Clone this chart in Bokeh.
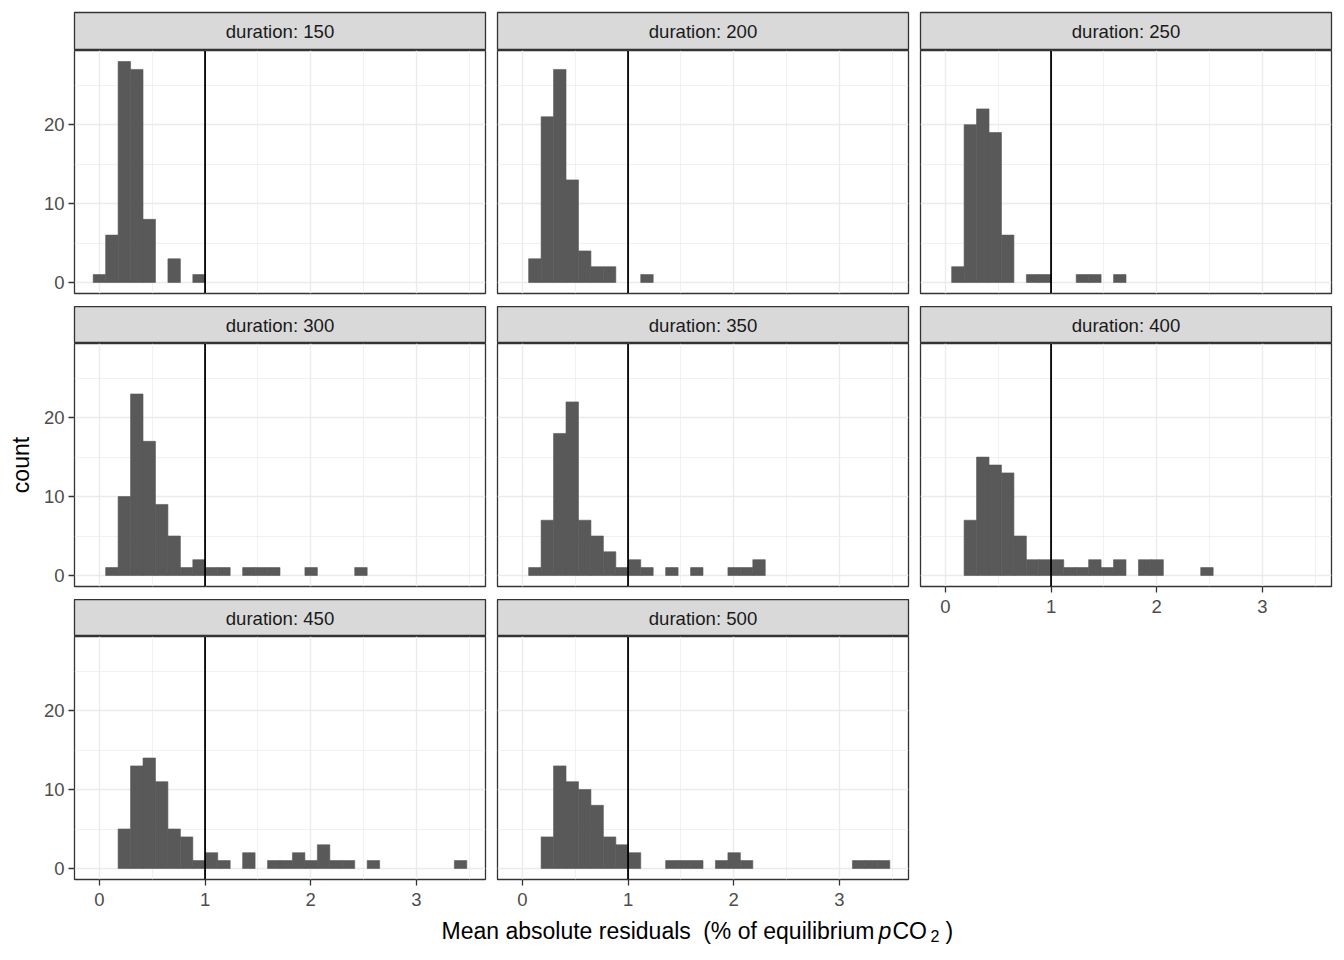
from bokeh.plotting import figure
from bokeh.layouts import row, column
from bokeh.models import Range1d, FixedTicker, Span
from bokeh.core.properties import value
from bokeh.embed import file_html
from bokeh.resources import INLINE

# ---------------- data ----------------
DURATIONS = [150, 200, 250, 300, 350, 400, 450, 500]
BIN_WIDTH = 0.1179          # histogram bin width (30 bins, centred on multiples of the width)

# counts per bin, bin k centred at k * BIN_WIDTH
COUNTS_150 = [1, 6, 28, 27, 8, 0, 3, 0, 1, 0, 0, 0, 0, 0, 0, 0, 0, 0, 0, 0, 0, 0, 0, 0, 0, 0, 0, 0, 0, 0]
COUNTS_200 = [0, 3, 21, 27, 13, 4, 2, 2, 0, 0, 1, 0, 0, 0, 0, 0, 0, 0, 0, 0, 0, 0, 0, 0, 0, 0, 0, 0, 0, 0]
COUNTS_250 = [0, 2, 20, 22, 19, 6, 0, 1, 1, 0, 0, 1, 1, 0, 1, 0, 0, 0, 0, 0, 0, 0, 0, 0, 0, 0, 0, 0, 0, 0]
COUNTS_300 = [0, 1, 10, 23, 17, 9, 5, 1, 2, 1, 1, 0, 1, 1, 1, 0, 0, 1, 0, 0, 0, 1, 0, 0, 0, 0, 0, 0, 0, 0]
COUNTS_350 = [0, 1, 7, 18, 22, 7, 5, 3, 1, 2, 1, 0, 1, 0, 1, 0, 0, 1, 1, 2, 0, 0, 0, 0, 0, 0, 0, 0, 0, 0]
COUNTS_400 = [0, 0, 7, 15, 14, 13, 5, 2, 2, 2, 1, 1, 2, 1, 2, 0, 2, 2, 0, 0, 0, 1, 0, 0, 0, 0, 0, 0, 0, 0]
COUNTS_450 = [0, 0, 5, 13, 14, 11, 5, 4, 1, 2, 1, 0, 2, 0, 1, 1, 2, 1, 3, 1, 1, 0, 1, 0, 0, 0, 0, 0, 0, 1]
COUNTS_500 = [0, 0, 4, 13, 11, 10, 8, 4, 3, 2, 0, 0, 1, 1, 1, 0, 1, 2, 1, 0, 0, 0, 0, 0, 0, 0, 0, 1, 1, 1]
ALL_COUNTS = [COUNTS_150, COUNTS_200, COUNTS_250, COUNTS_300,
              COUNTS_350, COUNTS_400, COUNTS_450, COUNTS_500]

THRESHOLD = 1.0
X_TICKS = [0, 1, 2, 3]
X_MINOR = [0.5, 1.5, 2.5, 3.5]
Y_TICKS = [0, 10, 20]
Y_MINOR = [5, 15, 25]

# ---------------- style ----------------
FONT = "Liberation Sans"
BAR = "#595959"
GRID = "#EBEBEB"
BORDER = "#333333"
STRIP_BG = "#D9D9D9"

X_RANGE = (-0.236, 3.655)
Y_RANGE = (-1.4, 29.4)
FRAME_H = 243

# column geometry: (figure width, min_border_left, min_border_right)
COLS = [(491, 74, 6), (423, 6, 6), (422, 6, 5)]


def style_axis(ax, standoff):
    ax.axis_line_color = None
    ax.major_tick_line_color = BORDER
    ax.major_tick_line_width = 1.3
    ax.major_tick_out = 6
    ax.major_tick_in = 0
    ax.minor_tick_line_color = None
    ax.major_label_text_font = FONT
    ax.major_label_text_font_size = "18.5px"
    ax.major_label_text_color = "#4D4D4D"
    ax.major_label_standoff = standoff


def make_strip(label, col, top):
    w, ml, mr = COLS[col]
    s = figure(width=w, height=(38 + top) if top else 37,
               x_range=Range1d(0, 1), y_range=Range1d(0, 1),
               x_axis_location=None, y_axis_location=None,
               min_border_left=ml, min_border_right=mr,
               min_border_top=top, min_border_bottom=0,
               background_fill_color=STRIP_BG, border_fill_color="white",
               outline_line_color=BORDER, outline_line_width=1.3,
               toolbar_location=None, output_backend="svg")
    s.grid.visible = False
    s.text(x=[0.5], y=[0.5], text=[label], text_align="center",
           text_baseline="middle", text_font=value(FONT),
           text_font_size="18.6px", text_color="#1A1A1A")
    return s


def make_panel(counts, col, show_x, show_y, ylabel=None):
    w, ml, mr = COLS[col]
    mb = 36 if show_x else 13
    p = figure(width=w, height=FRAME_H + mb,
               x_range=Range1d(*X_RANGE), y_range=Range1d(*Y_RANGE),
               min_border_left=ml, min_border_right=mr,
               min_border_top=0, min_border_bottom=mb,
               background_fill_color="white", border_fill_color="white",
               outline_line_color=BORDER, outline_line_width=1.3,
               toolbar_location=None, output_backend="svg")
    xt = FixedTicker(ticks=X_TICKS, minor_ticks=X_MINOR)
    yt = FixedTicker(ticks=Y_TICKS, minor_ticks=Y_MINOR)
    p.xaxis.ticker = xt
    p.yaxis.ticker = yt
    p.xgrid.ticker = xt
    p.ygrid.ticker = yt
    for g in (p.xgrid, p.ygrid):
        g.grid_line_color = GRID
        g.grid_line_width = 1.4
        g.minor_grid_line_color = GRID
        g.minor_grid_line_width = 0.7
    style_axis(p.xaxis[0], 7)
    style_axis(p.yaxis[0], 4)
    p.xaxis.visible = show_x
    p.yaxis.visible = show_y
    if ylabel:
        p.yaxis.axis_label = ylabel
        p.yaxis.axis_label_text_font = FONT
        p.yaxis.axis_label_text_font_size = "23px"
        p.yaxis.axis_label_text_font_style = "normal"
        p.yaxis.axis_label_text_color = "black"
        p.yaxis.axis_label_standoff = 7

    lefts, rights, tops = [], [], []
    for k, c in enumerate(counts):
        if c > 0:
            centre = k * BIN_WIDTH
            lefts.append(centre - BIN_WIDTH / 2)
            rights.append(centre + BIN_WIDTH / 2)
            tops.append(c)
    p.quad(left=lefts, right=rights, bottom=0, top=tops,
           fill_color=BAR, line_color=BAR, line_width=0.6)
    p.add_layout(Span(location=THRESHOLD, dimension="height",
                      line_color="black", line_width=1.8))
    return p


# panel positions in the 3-column facet grid
columns = [[], [], []]
n = len(DURATIONS)
for i, (d, counts) in enumerate(zip(DURATIONS, ALL_COUNTS)):
    r, c = divmod(i, 3)
    show_x = (i + 3) >= n          # x axis where no panel lies below
    show_y = (c == 0)
    ylabel = "count" if (c == 0 and r == 1) else None
    columns[c].append(make_strip(f"duration: {d}", c, 12 if r == 0 else 0))
    columns[c].append(make_panel(counts, c, show_x, show_y, ylabel))

grid = row(*[column(*cl, spacing=0) for cl in columns], spacing=0)

# x-axis title with italic p and subscript 2
TW, TH = 1336, 40
tfig = figure(width=TW, height=TH, x_range=Range1d(0, TW), y_range=Range1d(TH, 0),
              x_axis_location=None, y_axis_location=None, min_border=0,
              outline_line_color=None, background_fill_color="white",
              border_fill_color="white", toolbar_location=None, output_backend="svg")
tfig.grid.visible = False
pieces = [
    ("Mean absolute residuals", 441, 15, "23px", "normal", "left"),
    ("(% of equilibrium", 874, 15, "23px", "normal", "right"),
    ("p", 878, 15, "23px", "italic", "left"),
    ("CO", 892, 15, "23px", "normal", "left"),
    ("2", 930, 20, "16px", "normal", "left"),
    (")", 945, 15, "23px", "normal", "left"),
]
for txt, x, y, size, style, align in pieces:
    tfig.text(x=[x], y=[y], text=[txt], text_align=align, text_baseline="alphabetic",
              text_font=value(FONT), text_font_size=size, text_font_style=style,
              text_color="black")

layout = column(grid, tfig, spacing=0)

open("out.html", "w").write(file_html(layout, INLINE))
